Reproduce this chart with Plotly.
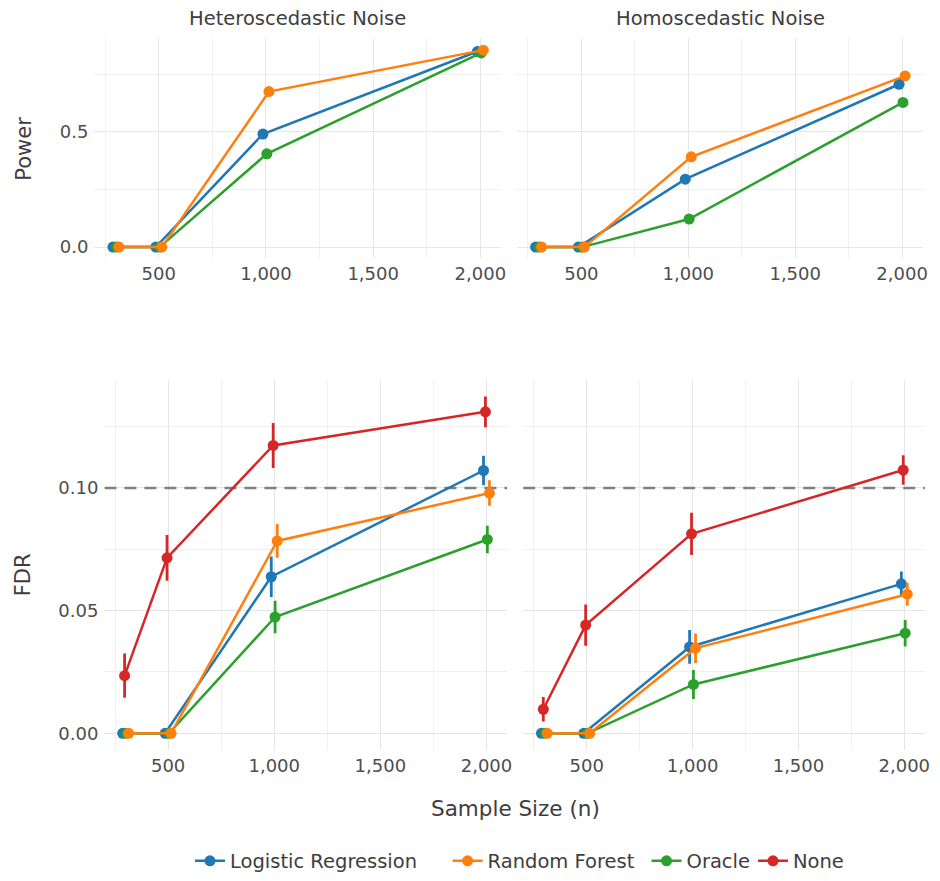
import plotly.graph_objects as go

# Sample sizes on the x axis
sample_sizes = [300, 500, 1000, 2000]
x_tickvals = [500, 1000, 1500, 2000]
x_ticktext = ["500", "1,000", "1,500", "2,000"]
x_range = [200, 2098]

methods = ["Logistic Regression", "Random Forest", "Oracle", "None"]

# Power (mean and standard error), heteroscedastic noise
power_het_lr = [0.0, 0.0, 0.491, 0.849]
power_het_lr_se = [0.0, 0.0, 0.014, 0.005]
power_het_rf = [0.0, 0.0, 0.675, 0.855]
power_het_rf_se = [0.0, 0.0, 0.012, 0.005]
power_het_oracle = [0.0, 0.0, 0.405, 0.843]
power_het_oracle_se = [0.0, 0.0, 0.015, 0.006]

# Power, homoscedastic noise
power_hom_lr = [0.0, 0.0, 0.295, 0.707]
power_hom_lr_se = [0.0, 0.0, 0.014, 0.008]
power_hom_rf = [0.0, 0.0, 0.392, 0.743]
power_hom_rf_se = [0.0, 0.0, 0.014, 0.006]
power_hom_oracle = [0.0, 0.0, 0.122, 0.628]
power_hom_oracle_se = [0.0, 0.0, 0.013, 0.012]

# FDR, heteroscedastic noise
fdr_het_lr = [0.0, 0.0, 0.0638, 0.1071]
fdr_het_lr_se = [0.0, 0.0, 0.0083, 0.0060]
fdr_het_rf = [0.0, 0.0, 0.0784, 0.0979]
fdr_het_rf_se = [0.0, 0.0, 0.0069, 0.0052]
fdr_het_oracle = [0.0, 0.0, 0.0474, 0.0790]
fdr_het_oracle_se = [0.0, 0.0, 0.0066, 0.0056]
fdr_het_none = [0.0235, 0.0715, 0.1173, 0.1310]
fdr_het_none_se = [0.0090, 0.0093, 0.0092, 0.0063]

# FDR, homoscedastic noise
fdr_hom_lr = [0.0, 0.0, 0.0352, 0.0609]
fdr_hom_lr_se = [0.0, 0.0, 0.0069, 0.0050]
fdr_hom_rf = [0.0, 0.0, 0.0347, 0.0567]
fdr_hom_rf_se = [0.0, 0.0, 0.0060, 0.0047]
fdr_hom_oracle = [0.0, 0.0, 0.0199, 0.0408]
fdr_hom_oracle_se = [0.0, 0.0, 0.0059, 0.0054]
fdr_hom_none = [0.0098, 0.0441, 0.0813, 0.1073]
fdr_hom_none_se = [0.0050, 0.0084, 0.0086, 0.0060]

fdr_target = 0.10

colors = {
    "Logistic Regression": "#1f77b4",
    "Random Forest": "#ff7f0e",
    "Oracle": "#2ca02c",
    "None": "#d62728",
}
# horizontal dodge so overlapping points stay visible
dodge = {"Logistic Regression": -14, "Random Forest": 14, "Oracle": 4, "None": -5}
draw_order = ["Logistic Regression", "Oracle", "Random Forest", "None"]
# one legend box per method, placed along the bottom (left edge of its text, px)
legend_ids = {"Logistic Regression": "legend", "Random Forest": "legend2",
              "Oracle": "legend3", "None": "legend4"}
legend_text_x = {"Logistic Regression": 231, "Random Forest": 490,
                 "Oracle": 690, "None": 797}

panels = [
    # (x axis, y axis, {method: (mean, se)})
    ("x", "y", {
        "Logistic Regression": (power_het_lr, power_het_lr_se),
        "Random Forest": (power_het_rf, power_het_rf_se),
        "Oracle": (power_het_oracle, power_het_oracle_se),
    }),
    ("x2", "y2", {
        "Logistic Regression": (power_hom_lr, power_hom_lr_se),
        "Random Forest": (power_hom_rf, power_hom_rf_se),
        "Oracle": (power_hom_oracle, power_hom_oracle_se),
    }),
    ("x3", "y3", {
        "Logistic Regression": (fdr_het_lr, fdr_het_lr_se),
        "Random Forest": (fdr_het_rf, fdr_het_rf_se),
        "Oracle": (fdr_het_oracle, fdr_het_oracle_se),
        "None": (fdr_het_none, fdr_het_none_se),
    }),
    ("x4", "y4", {
        "Logistic Regression": (fdr_hom_lr, fdr_hom_lr_se),
        "Random Forest": (fdr_hom_rf, fdr_hom_rf_se),
        "Oracle": (fdr_hom_oracle, fdr_hom_oracle_se),
        "None": (fdr_hom_none, fdr_hom_none_se),
    }),
]

W, H = 940, 881
FONT = "DejaVu Sans"
TICK_COLOR = "#4d4d4d"
TITLE_COLOR = "#3d3d3d"

fig = go.Figure()

# dashed nominal FDR level, drawn first so the series sit on top of it
for xa, ya in [("x3", "y3"), ("x4", "y4")]:
    fig.add_trace(go.Scatter(
        x=x_range, y=[fdr_target, fdr_target], mode="lines",
        line=dict(color="#808080", width=2.6, dash="12px,8px"),
        hoverinfo="skip", showlegend=False, xaxis=xa, yaxis=ya,
    ))

for xa, ya, series in panels:
    for m in draw_order:
        if m not in series:
            continue
        mean, se = series[m]
        fig.add_trace(go.Scatter(
            x=[n + dodge[m] for n in sample_sizes],
            y=mean,
            error_y=dict(type="data", array=se, visible=True,
                         color=colors[m], thickness=2.8, width=0),
            mode="lines+markers",
            line=dict(color=colors[m], width=2.5),
            marker=dict(color=colors[m], size=11),
            name=m,
            legendgroup=m,
            legend=legend_ids[m],
            showlegend=(xa == "x3"),
            xaxis=xa, yaxis=ya,
        ))


def px_x(a, b):
    return [a / W, b / W]


def px_y(top, bottom):
    return [1 - bottom / H, 1 - top / H]


grid_major = "#e6e6e6"
grid_minor = "#f0f0f0"

xcommon = dict(
    range=x_range, tickmode="array", tickvals=x_tickvals, ticktext=x_ticktext,
    showgrid=True, gridcolor=grid_major, gridwidth=1.3, zeroline=False,
    showline=False, ticks="", ticklabelstandoff=3,
    tickfont=dict(family=FONT, size=18, color=TICK_COLOR),
    minor=dict(tickmode="array", tickvals=[250, 750, 1250, 1750],
               showgrid=True, gridcolor=grid_minor, gridwidth=0.8),
)

ycommon = dict(
    showgrid=True, gridcolor=grid_major, gridwidth=1.3, zeroline=False,
    showline=False, ticks="", ticklabelstandoff=5,
    tickfont=dict(family=FONT, size=18, color=TICK_COLOR),
)

power_y = dict(range=[-0.047, 0.909], tickmode="array", tickvals=[0, 0.5],
               ticktext=["0.0", "0.5"],
               minor=dict(tickmode="array", tickvals=[0.25, 0.75], showgrid=True,
                          gridcolor=grid_minor, gridwidth=0.8))
fdr_y = dict(range=[-0.0068, 0.144], tickmode="array", tickvals=[0, 0.05, 0.10],
             ticktext=["0.00", "0.05", "0.10"],
             minor=dict(tickmode="array", tickvals=[0.025, 0.075, 0.125], showgrid=True,
                        gridcolor=grid_minor, gridwidth=0.8))

fig.update_layout(
    xaxis=dict(**xcommon, domain=px_x(95, 504), anchor="y"),
    xaxis2=dict(**xcommon, domain=px_x(520, 928), anchor="y2"),
    xaxis3=dict(**xcommon, domain=px_x(105, 510), anchor="y3"),
    xaxis4=dict(**xcommon, domain=px_x(526, 930), anchor="y4"),
    yaxis=dict(**ycommon, **power_y, domain=px_y(38, 260), anchor="x"),
    yaxis2=dict(**ycommon, **power_y, domain=px_y(38, 260), anchor="x2", showticklabels=False),
    yaxis3=dict(**ycommon, **fdr_y, domain=px_y(383, 756), anchor="x3"),
    yaxis4=dict(**ycommon, **fdr_y, domain=px_y(383, 756), anchor="x4", showticklabels=False),
)

annotations = [
    dict(text="Heteroscedastic Noise", x=299.5 / W, y=1 - 19 / H, size=19.5),
    dict(text="Homoscedastic Noise", x=724 / W, y=1 - 19 / H, size=19.5),
    dict(text="Sample Size (n)", x=518 / W, y=1 - 815 / H, size=21.5),
    dict(text="Power", x=24 / W, y=1 - 150 / H, size=21, angle=-90),
    dict(text="FDR", x=24 / W, y=1 - 579 / H, size=21, angle=-90),
]
for a in annotations:
    fig.add_annotation(
        text=a["text"], x=a["x"], y=a["y"], xref="paper", yref="paper",
        xanchor="center", yanchor="middle", showarrow=False,
        textangle=a.get("angle", 0),
        font=dict(family=FONT, size=a["size"], color=TITLE_COLOR),
    )

legend_style = dict(orientation="h", yanchor="middle", xanchor="left",
                    font=dict(family=FONT, size=19.5, color=TITLE_COLOR),
                    itemwidth=30, bgcolor="rgba(0,0,0,0)",
                    borderwidth=0)
legends = {}
for m in methods:
    legends[legend_ids[m]] = dict(legend_style, x=(legend_text_x[m] - 40) / W,
                                  y=1 - 868 / H)

fig.update_layout(
    width=W, height=H,
    margin=dict(l=0, r=0, t=0, b=0),
    paper_bgcolor="white", plot_bgcolor="white",
    font=dict(family=FONT, color=TITLE_COLOR),
    showlegend=True,
    **legends,
)

fig.write_html("out.html")
